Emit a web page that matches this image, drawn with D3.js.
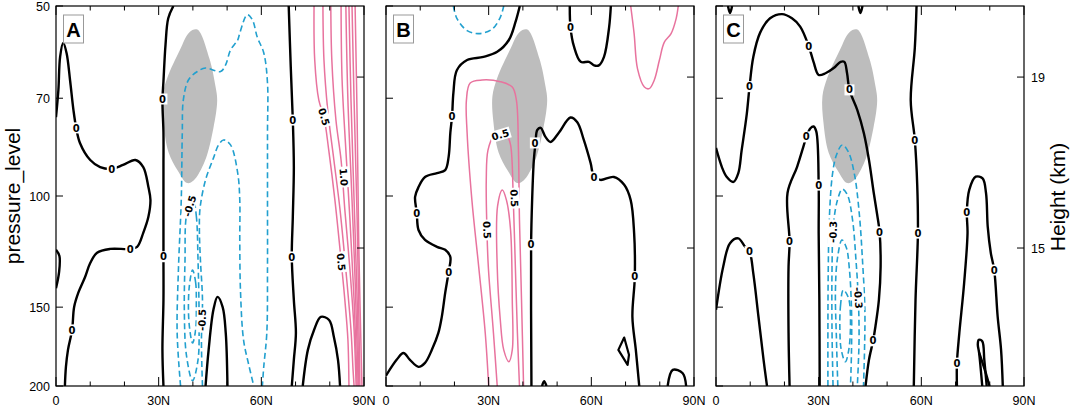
<!DOCTYPE html>
<html><head><meta charset="utf-8">
<script src="https://cdn.jsdelivr.net/npm/d3@7"></script>
<style>body{margin:0;background:#fff}svg{display:block}</style>
</head><body>
<svg id="c" width="1072" height="409"></svg>
<script>
// ---------- axis data ----------
const latMajor = [0, 30, 60, 90];
const latMajorLabels = ["0", "30N", "60N", "90N"];
const latMinor = [10, 20, 40, 50, 70, 80];
const pressureTicks = [50, 70, 100, 150, 200];
const heightTicksKm = [19, 15];
const heightTicksPressure = [64.8, 120.9];
const panelNames = ["A", "B", "C"];

// shaded region [lat, hPa]
const shadeRegion = [[41.3,54.5],[44.8,60.5],[46.6,67],[47.1,70.5],[46,78],[43.5,88],[40.2,94.5],[38.3,95.4],[35.6,91.2],[32.9,85.3],[31.4,76.5],[31.1,69.5],[32.5,65],[36.2,58.7],[39,55]];

// ---------- Panel A ----------
const A_zero = [
 [[0,75],[0.7,67.9],[1.2,60.2],[2.1,57.2],[3.1,59.4],[4.1,65.5],[5.1,73.1],[5.9,78.0],[7.0,82.4],[10.0,87.7],[12.9,90.0],[16.3,90.6],[19.6,89.3],[23.2,87.7],[25.5,90.0],[27.0,96.8],[27.6,101.5],[27.0,107.9],[25.5,114.4],[23.7,120.4],[21.7,121.3],[15.8,121.3],[12.0,123.0],[10.0,127.7],[8.5,134.4],[6.5,142.4],[5.3,149.9],[4.7,163.0],[3.5,175.3],[2.9,186.5],[2.6,200]],
 [[0,121.7],[1.0,124.5],[0.9,132.0],[0,140.0]],
 [[34.3,50],[32.8,52.3],[32.0,57.6],[31.4,65.8],[31.1,70.5],[31.4,79.4],[31.4,90.0],[31.4,101.5],[31.4,124.9],[31.4,146.1],[31.1,175.3],[31.4,200]],
 [[68.0,50],[68.6,62.5],[69.2,75.8],[69.5,90.0],[69.2,107.9],[68.9,124.9],[69.5,146.1],[70.1,164.8],[69.5,181.8],[68.9,200]],
 [[43.7,200],[44.6,175.3],[46.0,151.5],[47.2,144.5],[48.7,150],[49.6,164.8],[50.1,200]],
 [[72.1,200],[73.6,175.3],[75.4,163.0],[77.4,155.4],[79.8,157.2],[81.2,167.2],[82.4,181.8],[83.0,200]]
];
const A_neg = [
 [[36.4,200],[35.4,164.8],[35.8,129.6],[36.6,101.5],[36.9,79.4],[37.2,70.5],[38.7,65.5],[41.3,63.5],[43.7,62.7],[48.1,63.5],[49.6,61.9],[51.0,58.7],[53.1,56.6],[53.7,55.2],[55.9,51.6],[57.4,52.6],[58.8,56.0],[60.7,59.3],[61.8,66.2],[61.8,79.4],[61.8,101.5],[61.8,129.6],[61.6,164.8],[60.7,186.6],[60.3,200]],
 [[42.8,200],[42.5,169.5],[42.8,146.1],[42.2,126.3],[41.9,113.2],[42.1,104.5],[43.7,94.3],[46.0,87.1],[47.5,83.0],[49.0,81.5],[51.0,83.0],[53.1,92.0],[53.7,101.5],[53.7,117.4],[53.9,140.9],[54.8,169.0],[56.3,184.9],[57.8,200]]
];
const A_negLoops = [
 [[39.9,99.7],[41.0,107.5],[41.5,126.3],[41.8,157.2],[41.5,181.8],[39.9,196.2],[38.1,178.5],[37.5,151.5],[37.7,126.3],[38.1,107.5]],
 [[39.9,131.0],[40.8,137.0],[41.0,148.8],[40.8,163.0],[39.9,171.0],[39.1,163.0],[38.7,151.5],[39.0,138.3]]
];
const A_pos = [
 [[75.4,50],[75.6,60.9],[76.8,70.5],[78.3,75.0],[79.7,84.6],[81.5,101.5],[83.3,126.3],[84.4,146.1],[85.3,169.0],[85.6,200]],
 [[78.0,50],[78.3,60.9],[79.4,73.1],[81.2,87.7],[83.0,105.2],[84.7,131.0],[86.2,163.0],[86.8,188.6],[87.1,200]],
 [[80.3,50],[80.6,60.9],[81.8,75.8],[83.3,87.7],[84.4,105.2],[85.9,131.0],[87.1,163.0],[87.7,200]],
 [[83.3,50],[83.6,65.5],[84.7,84.6],[85.9,109.1],[87.1,146.1],[88.0,200]],
 [[84.7,50],[85.3,70.5],[86.5,101.5],[87.4,135.8],[88.3,200]],
 [[85.6,50],[86.2,70.5],[87.1,101.5],[88.0,146.1],[88.5,200]],
 [[86.5,50],[87.1,70.5],[88.0,109.1],[88.8,200]],
 [[87.4,50],[88.0,75.8],[88.5,121.7],[89.4,200]]
];
const A_labels = [
 [5.9,78.0,"0"],[16.3,90.6,"0"],[21.7,121.4,"0"],[4.7,163.0,"0"],
 [31.1,70.2,"0"],[31.4,124.8,"0"],[69.2,75.8,"0"],[68.9,124.9,"0"],
 [39.1,103.7,"-0.5"],[42.7,157.2,"-0.5"],
 [78.3,74.9,"0.5"],[84.1,93.3,"1.0"],[83.3,127.2,"0.5"]
];

// ---------- Panel B ----------
const B_zero = [
 [[0,192.6],[3.1,181.8],[5.1,177.3],[7.0,181.8],[9.5,186.5],[11.4,183.8],[13.4,175.3],[15.3,164.8],[16.3,155.4],[17.3,142.4],[18.3,131.9],[18.8,124.9],[17.3,121.7],[14.9,120.4],[11.4,117.4],[9.5,113.2],[9.0,106.4],[8.5,100.3],[9.5,96.8],[11.4,93.3],[14.9,92.0],[17.3,91.0],[18.3,86.7],[18.8,79.4],[19.3,74.8],[19.7,68.6],[20.7,63.2],[23.7,60.9],[28.5,60.2],[32.5,59.1],[35.9,56.6],[37.8,53.1],[39.1,50]],
 [[42.5,200],[42.4,119.5],[42.7,101.5],[43.2,87.7],[43.7,82.4],[44.2,78.6],[45.2,78.0],[46.6,80.6],[48.1,82.1],[50.5,79.4],[53.9,75.1],[55.9,76.4],[57.8,81.5],[59.8,88.7],[60.8,93.3],[62.7,94.3],[66.6,93.3],[69.6,96.0],[71.5,101.5],[72.5,114.4],[72.7,134.4],[72.0,155.4],[73.0,175.3],[74.0,200]],
 [[53.7,50],[53.9,54.0],[54.9,57.9],[56.9,61.3],[59.3,61.3],[60.8,62.1],[62.2,62.1],[63.7,60.2],[65.2,54.0],[65.7,50]],
 [[82.3,200],[83.8,188.6],[86.7,190.9],[87.7,200]],
 [[45.6,200],[46.2,196.5],[46.9,200]]
];
const B_zeroLoops = [
 [[69.6,167.6],[71.0,178.5],[70.6,185.2],[67.9,175.3]]
];
const B_neg = [
 [[19.7,50],[20.7,52.3],[23.7,54.7],[27.1,55.3],[31.0,54.4],[33.4,52.1],[34.4,50]]
];
const B_pos = [
 [[30.0,200],[29.0,164.8],[27.1,129.6],[25.1,101.5],[23.7,79.4],[23.5,70.5],[24.6,66.2],[28.1,65.5],[33.4,65.9],[36.9,67.2],[38.1,70.5],[38.7,84.6],[39.0,109.1],[39.6,146.1],[40.2,200]],
 [[32.5,200],[31.4,164.8],[29.9,129.6],[29.5,113.2],[29.3,94.3],[29.8,84.6],[31.4,80.6],[33.4,80.0],[35.5,80.6],[36.4,83.0],[37.2,101.5],[37.8,129.6],[38.4,164.8],[39.0,200]],
 [[71.5,50],[72.5,55.3],[73.5,62.9],[75.5,67.2],[76.9,67.6],[78.4,65.5],[79.9,60.9],[81.3,57.1],[83.3,55.3],[84.8,52.3],[85.4,50]]
];
const B_posLoops = [
 [[34.0,97.8],[35.2,101.5],[36.4,113.2],[36.9,146.1],[36.9,175.3],[35.9,183],[34.4,175.3],[33.4,157.2],[32.5,129.6],[32.6,103.8]]
];
const B_labels = [
 [18.3,131.9,"0"],[9.0,106.4,"0"],[19.3,74.8,"0"],[43.5,82.4,"0"],[42.4,119.5,"0"],
 [60.8,93.3,"0"],[72.7,134.2,"0"],[53.9,54.0,"0"],
 [33.4,80.0,"0.5"],[37.5,100.8,"0.5"],[29.5,113.2,"0.5"]
];

// ---------- Panel C ----------
const C_zero = [
 [[0,83.9],[1.7,89.9],[3.1,93.2],[5.1,95.0],[6.5,92.1],[7.5,84.6],[9.0,74.1],[9.8,67.1],[10.9,60.2],[12.9,55.1],[15.8,52.3],[19.3,51.5],[22.2,52.3],[24.6,53.9],[27.1,57.9],[28.5,61.3],[30.0,64.3],[32.0,63.9],[34.4,62.7],[36.4,61.3],[37.5,61.3],[38.3,63.9],[39.0,67.9],[41.3,73.1],[43.2,79.5],[44.7,87.7],[46.1,98.9],[47.1,107.1],[47.8,114.0],[48.1,129.4],[47.6,146.1],[46.6,160.8],[45.9,169.6],[44.7,181.8],[43.7,200]],
 [[0,151.5],[2.1,129.4],[4.1,118.8],[6.5,116.7],[8.5,120.3],[9.8,122.5],[10.9,132.6],[12.4,155.2],[13.9,181.8],[14.9,200]],
 [[21.5,200],[21.2,164.8],[21.2,129.4],[21.5,118.1],[20.9,98.9],[23.7,89.9],[25.6,83.3],[26.4,80.6],[27.6,78.1],[28.5,77.6],[29.3,79.0],[30.0,96.1],[30.0,114.5],[30.2,146.1],[30.3,200]],
 [[58.6,50],[58.1,58.2],[56.9,70.5],[58.1,81.5],[58.8,96.1],[59.0,114.5],[58.3,146.1],[57.8,200]],
 [[70.4,200],[70.4,184.0],[71.1,164.9],[72.5,137.5],[73.5,114.5],[73.3,106.0],[74.0,97.8],[75.9,93.2],[77.9,93.8],[78.9,98.9],[79.4,111.8],[80.3,123.1],[81.3,131.0],[82.3,155.2],[83.3,175.3],[83.8,200]],
 [[77.8,200],[76.9,177.5],[76.5,171.7],[76.8,169.0],[77.8,169.9],[78.4,181.8],[79.1,200]],
 [[76.9,177],[78.8,190.5],[79.9,200]],
 [[3.5,50],[4.1,51.3],[4.7,50]],
 [[41.6,50],[42.2,51.3],[42.8,50]]
];
const C_neg = [
 [[32.7,200],[32.7,163],[32.8,131],[33.1,109.1],[34.0,92.7],[35.2,86.1],[36.9,83.0],[38.7,85.2],[40.5,92.7],[41.9,107.1],[42.8,126.3],[43.5,151.5],[43.4,175.3],[43.1,200]],
 [[34.2,200],[33.9,163],[33.9,131],[34.3,111.1],[35.5,101.5],[36.9,97.5],[38.4,99.6],[39.9,109.1],[40.9,126.3],[41.6,146.1],[41.8,169],[41.3,200]],
 [[35.6,200],[35.2,169],[34.9,140.9],[35.5,125.4],[36.8,117.4],[38.1,120.8],[39.0,131],[39.6,151.5],[39.6,175.3],[39.3,200]]
];
const C_negLoops = [
 [[37.2,140.9],[36.4,148.8],[36.2,163],[36.6,175.3],[37.8,183.1],[38.8,175.3],[39.3,157.2],[38.7,145.0]]
];
const C_labels = [
 [9.8,67.1,"0"],[27.1,57.9,"0"],[39.0,67.9,"0"],[47.8,114.0,"0"],[45.9,169.6,"0"],
 [9.8,122.5,"0"],[21.5,118.1,"0"],[26.4,80.6,"0"],[30.0,96.1,"0"],
 [58.1,81.5,"0"],[59.0,114.5,"0"],[70.4,184.0,"0"],[73.3,106.0,"0"],[81.3,131.0,"0"],
 [34.2,114.0,"-0.3"],[41.6,145.0,"-0.3"]
];

// ---------- drawing ----------
const panels = [
 {zero:A_zero, zeroLoops:[], neg:A_neg, negLoops:A_negLoops, pos:A_pos, posLoops:[], labels:A_labels},
 {zero:B_zero, zeroLoops:B_zeroLoops, neg:B_neg, negLoops:[], pos:B_pos, posLoops:B_posLoops, labels:B_labels},
 {zero:C_zero, zeroLoops:[], neg:C_neg, negLoops:C_negLoops, pos:[], posLoops:[], labels:C_labels}
];
const panelLeft = [56, 386, 716], panelW = 308, plotTop = 6, plotBottom = 386;
const svg = d3.select("#c");
const defs = svg.append("defs");
const yScale = d3.scaleLog().domain([50, 200]).range([plotTop, plotBottom]);
const FONT = "'Liberation Sans', Arial, Helvetica, sans-serif";
const pinkC = "#e8739e", blueC = "#22a0cf", shadeC = "#bdbdbd";

panels.forEach((P, i) => {
  const x = d3.scaleLinear().domain([0, 90]).range([panelLeft[i], panelLeft[i] + panelW]);
  const y = yScale;
  const g = svg.append("g");
  defs.append("clipPath").attr("id", "clip" + i).append("rect")
    .attr("x", x(0)).attr("y", plotTop).attr("width", panelW).attr("height", plotBottom - plotTop);
  const plot = g.append("g").attr("clip-path", `url(#clip${i})`);
  const open = d3.line().x(d => x(d[0])).y(d => y(d[1])).curve(d3.curveCatmullRom.alpha(0.5));
  const closed = d3.line().x(d => x(d[0])).y(d => y(d[1])).curve(d3.curveCatmullRomClosed.alpha(0.5));
  const closedLin = d3.line().x(d => x(d[0])).y(d => y(d[1])).curve(d3.curveLinearClosed);

  plot.append("path").attr("d", closed(shadeRegion)).attr("fill", shadeC);

  const drawSet = (lines, gen, stroke, w, dash) => lines.forEach(L => {
    const p = plot.append("path").attr("d", gen(L)).attr("fill", "none")
      .attr("stroke", stroke).attr("stroke-width", w).attr("stroke-linejoin", "round");
    if (dash) p.attr("stroke-dasharray", dash);
  });
  drawSet(P.pos, open, pinkC, 1.5);
  drawSet(P.posLoops, closed, pinkC, 1.5);
  drawSet(P.neg, open, blueC, 1.6, "6,3.5");
  drawSet(P.negLoops, closed, blueC, 1.6, "6,3.5");
  drawSet(P.zero, open, "#000", 2.4);
  drawSet(P.zeroLoops, closedLin, "#000", 2.2);

  const allLines = [].concat(P.pos, P.neg, P.zero,
    P.posLoops.map(L => L.concat([L[0]])), P.negLoops.map(L => L.concat([L[0]])), P.zeroLoops.map(L => L.concat([L[0]])));
  function labelAngle(px, py) {
    let best = Infinity, ang = 0;
    allLines.forEach(L => {
      const pts = L.map(d => [x(d[0]), y(d[1])]);
      for (let k = 0; k < pts.length - 1; k++) {
        const [x1, y1] = pts[k], [x2, y2] = pts[k + 1];
        const dx = x2 - x1, dy = y2 - y1, len2 = dx * dx + dy * dy || 1;
        let t = ((px - x1) * dx + (py - y1) * dy) / len2;
        t = Math.max(0, Math.min(1, t));
        const qx = x1 + t * dx - px, qy = y1 + t * dy - py, dd = qx * qx + qy * qy;
        if (dd < best) { best = dd; ang = Math.atan2(dy, dx) * 180 / Math.PI; }
      }
    });
    if (ang > 90) ang -= 180;
    if (ang < -90) ang += 180;
    return ang;
  }
  P.labels.forEach(([la, pr, txt]) => {
    const px = x(la), py = y(pr);
    const a = txt === "0" ? 0 : labelAngle(px, py);
    const lg = plot.append("g").attr("transform", `translate(${px},${py}) rotate(${a})`);
    const r = lg.append("rect").attr("fill", "#fff");
    const t = lg.append("text").text(txt).attr("text-anchor", "middle").attr("dy", "0.36em")
      .attr("font-family", "'DejaVu Sans', sans-serif").attr("font-weight", "bold").attr("font-size", 10)
      .attr("fill", "#000");
    const w = t.node().getComputedTextLength();
    r.attr("x", -w / 2 - 1.5).attr("y", -5.5).attr("width", w + 3).attr("height", 11);
  });

  g.append("rect").attr("x", x(0)).attr("y", plotTop).attr("width", panelW).attr("height", plotBottom - plotTop)
    .attr("fill", "none").attr("stroke", "#000").attr("stroke-width", 1.2);
  latMajor.forEach(v => {
    g.append("line").attr("x1", x(v)).attr("x2", x(v)).attr("y1", plotBottom).attr("y2", plotBottom - 9).attr("stroke", "#000");
    g.append("line").attr("x1", x(v)).attr("x2", x(v)).attr("y1", plotTop).attr("y2", plotTop + 9).attr("stroke", "#000");
  });
  latMinor.forEach(v => {
    g.append("line").attr("x1", x(v)).attr("x2", x(v)).attr("y1", plotBottom).attr("y2", plotBottom - 4.5).attr("stroke", "#000");
    g.append("line").attr("x1", x(v)).attr("x2", x(v)).attr("y1", plotTop).attr("y2", plotTop + 4.5).attr("stroke", "#000");
  });
  latMajor.forEach((v, k) => {
    g.append("text").attr("x", x(v)).attr("y", 405).attr("text-anchor", "middle")
      .attr("font-family", FONT).attr("font-size", 12.5).attr("fill", "#000").text(latMajorLabels[k]);
  });
  pressureTicks.forEach(p => {
    g.append("line").attr("x1", x(0)).attr("x2", x(0) + 7).attr("y1", y(p)).attr("y2", y(p)).attr("stroke", "#000");
  });
  heightTicksPressure.forEach(p => {
    g.append("line").attr("x1", x(90)).attr("x2", x(90) - 7).attr("y1", y(p)).attr("y2", y(p)).attr("stroke", "#000");
  });
  if (i === 0) {
    pressureTicks.forEach(p => {
      g.append("text").attr("x", x(0) - 6).attr("y", y(p)).attr("dy", "0.36em").attr("text-anchor", "end")
        .attr("font-family", FONT).attr("font-size", 12.5).attr("fill", "#000").text(p);
    });
    g.append("text").attr("transform", `translate(20,196) rotate(-90)`).attr("text-anchor", "middle")
      .attr("font-family", FONT).attr("font-size", 21).attr("fill", "#000").text("pressure_level");
  }
  if (i === 2) {
    heightTicksPressure.forEach((p, k) => {
      g.append("text").attr("x", x(90) + 7).attr("y", y(p)).attr("dy", "0.36em").attr("text-anchor", "start")
        .attr("font-family", FONT).attr("font-size", 12.5).attr("fill", "#000").text(heightTicksKm[k]);
    });
    g.append("text").attr("transform", `translate(1065,197) rotate(-90)`).attr("text-anchor", "middle")
      .attr("font-family", FONT).attr("font-size", 21).attr("fill", "#000").text("Height (km)");
  }
  const bx = x(0) + 7.5;
  g.append("rect").attr("x", bx).attr("y", 15).attr("width", 20).attr("height", 28)
    .attr("fill", "#fff").attr("stroke", "#999").attr("stroke-width", 1);
  g.append("text").attr("x", bx + 10).attr("y", 36.5).attr("text-anchor", "middle")
    .attr("font-family", FONT).attr("font-weight", "bold").attr("font-size", 20).attr("fill", "#000").text(panelNames[i]);
});
</script>
</body></html>
